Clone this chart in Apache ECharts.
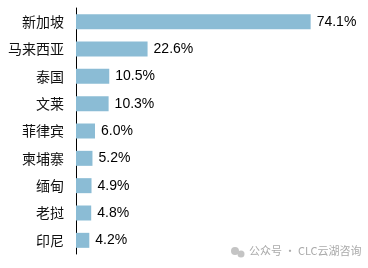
<!DOCTYPE html>
<html><head><meta charset="utf-8">
<script src="https://cdn.jsdelivr.net/npm/echarts@6/dist/echarts.min.js"></script>
<style>html,body{margin:0;padding:0;background:#fff}#c{width:368px;height:268px}</style>
</head><body><div id="c"></div>
<script>
var categories = ["新加坡","马来西亚","泰国","文莱","菲律宾","柬埔寨","缅甸","老挝","印尼"];
var values = [74.1,22.6,10.5,10.3,6.0,5.2,4.9,4.8,4.2];
var chart = echarts.init(document.getElementById('c'));
chart.setOption({
  animation:false,
  grid:{left:76,top:8,bottom:14,width:285},
  xAxis:{type:'value',min:0,max:90,show:false},
  yAxis:{type:'category',data:categories,inverse:true,
    axisLine:{lineStyle:{color:'#000',width:1}},axisTick:{show:false},
    axisLabel:{fontFamily:'Noto Sans CJK SC',fontSize:14,color:'#111',margin:12}},
  series:[{type:'bar',data:values,barWidth:15,itemStyle:{color:'#8BBCD5'},
    label:{show:true,position:'right',distance:6,fontFamily:'Liberation Sans',fontSize:14,color:'#000',
      formatter:function(p){return p.value.toFixed(1)+'%';}}}],
  graphic:[
    {type:'circle',shape:{cx:235,cy:251,r:4},style:{fill:'#c4c4c4'}},
    {type:'circle',shape:{cx:241,cy:254,r:3.5},style:{fill:'#c4c4c4'}},
    {type:'text',left:249,top:245,style:{text:'公众号 · CLC云湖咨询',fill:'#aaaaaa',font:'11px "Noto Sans CJK SC"'}}
  ]
});
</script></body></html>
